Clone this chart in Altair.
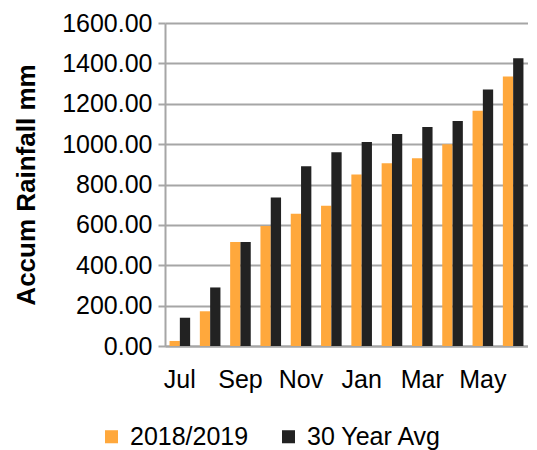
import altair as alt
import pandas as pd

months = ["Jul", "Aug", "Sep", "Oct", "Nov", "Dec", "Jan", "Feb", "Mar", "Apr", "May", "Jun"]
season = [25, 172, 515, 595, 655, 695, 850, 905, 930, 1000, 1165, 1335]
avg30 = [140, 290, 515, 735, 890, 960, 1010, 1050, 1085, 1115, 1270, 1425]
series_names = ["2018/2019", "30 Year Avg"]
colors = ["#FFA83C", "#222222"]
shown_labels = ["Jul", "Sep", "Nov", "Jan", "Mar", "May"]
y_ticks = [0, 200, 400, 600, 800, 1000, 1200, 1400, 1600]

rows = []
for m, a, b in zip(months, season, avg30):
    rows.append({"month": m, "series": series_names[0], "value": a})
    rows.append({"month": m, "series": series_names[1], "value": b})
df = pd.DataFrame(rows)

font = "Liberation Sans"
fs = 25

chart = alt.Chart(df).mark_bar().encode(
    x=alt.X("month:N", sort=months, title=None,
            scale=alt.Scale(paddingInner=0.32, paddingOuter=0.15),
            axis=alt.Axis(values=shown_labels, labelAngle=0, labelFontSize=fs,
                          labelFont=font, labelColor="#000000", labelPadding=21,
                          ticks=False, domainColor="#A6A6A6", domainWidth=2, grid=False)),
    xOffset=alt.XOffset("series:N", sort=series_names, scale=alt.Scale(paddingInner=0, paddingOuter=0)),
    y=alt.Y("value:Q", title="Accum Rainfall mm",
            scale=alt.Scale(domain=[0, 1600], nice=False),
            axis=alt.Axis(values=y_ticks, format=".2f", labelFontSize=fs, labelFont=font,
                          labelColor="#000000", labelPadding=6, tickSize=7, tickColor="#A6A6A6",
                          tickWidth=2, domainColor="#A6A6A6", domainWidth=2,
                          gridColor="#A6A6A6", gridWidth=2,
                          titleFont=font, titleFontSize=26, titleFontWeight="bold",
                          titleColor="#000000", titlePadding=22)),
    color=alt.Color("series:N", sort=series_names,
                    scale=alt.Scale(domain=series_names, range=colors),
                    legend=alt.Legend(title=None, orient="none", legendX=-66, legendY=401,
                                      direction="horizontal", symbolType="square",
                                      symbolSize=170, symbolStrokeWidth=0,
                                      labelFont=font, labelFontSize=fs, labelColor="#000000",
                                      columnPadding=27, labelOffset=6)),
).properties(
    width=363, height=323, padding={"left": 5, "top": 3, "right": 0, "bottom": 5}
).configure_view(stroke=None)

chart.save("out.html", embed_options={"renderer": "svg", "actions": False})
